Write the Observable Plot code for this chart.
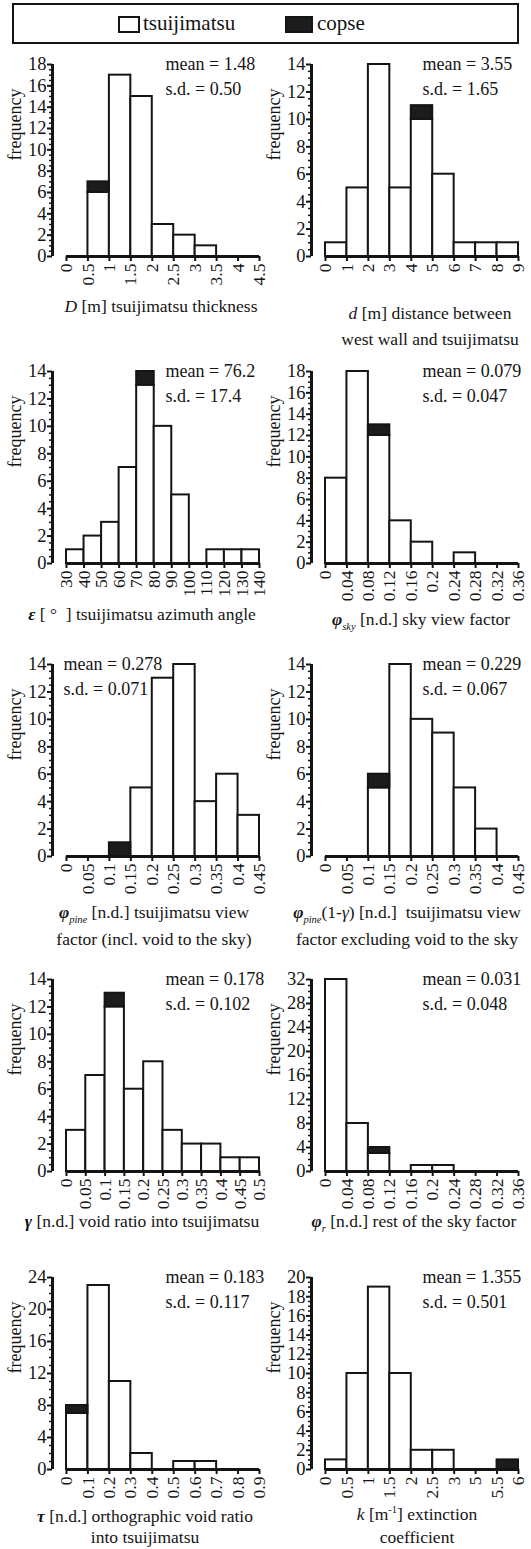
<!DOCTYPE html>
<html><head><meta charset="utf-8">
<script src="https://cdn.jsdelivr.net/npm/d3@7"></script>
<script src="https://cdn.jsdelivr.net/npm/@observablehq/plot@0.6"></script>
<style>
html,body{margin:0;padding:0;background:#fff;}
#page{position:relative;width:531px;height:1549px;overflow:hidden;font-family:"Liberation Serif","Times New Roman",serif;color:#141414;}
.panel{position:absolute;}
#overlay{position:absolute;left:0;top:0;pointer-events:none;}
#overlay text{white-space:pre;}
</style></head><body><div id="page"></div>
<script>
// ---------------- data ----------------
const seriesNames = ["tsuijimatsu", "copse"];
const yLabel = "frequency";

const thickEdges = [0, 0.5, 1, 1.5, 2, 2.5, 3, 3.5, 4, 4.5];
const thickTsuji = [0, 6, 17, 15, 3, 2, 1, 0, 0];
const thickCopse = [0, 1, 0, 0, 0, 0, 0, 0, 0];

const distEdges = [0, 1, 2, 3, 4, 5, 6, 7, 8, 9];
const distTsuji = [1, 5, 14, 5, 10, 6, 1, 1, 1];
const distCopse = [0, 0, 0, 0, 1, 0, 0, 0, 0];

const azEdges = [30, 40, 50, 60, 70, 80, 90, 100, 110, 120, 130, 140];
const azTsuji = [1, 2, 3, 7, 13, 10, 5, 0, 1, 1, 1];
const azCopse = [0, 0, 0, 0, 1, 0, 0, 0, 0, 0, 0];

const skyEdges = [0, 0.04, 0.08, 0.12, 0.16, 0.2, 0.24, 0.28, 0.32, 0.36];
const skyTsuji = [8, 18, 12, 4, 2, 0, 1, 0, 0];
const skyCopse = [0, 0, 1, 0, 0, 0, 0, 0, 0];

const pineEdges = [0, 0.05, 0.1, 0.15, 0.2, 0.25, 0.3, 0.35, 0.4, 0.45];
const pineTsuji = [0, 0, 0, 5, 13, 14, 4, 6, 3];
const pineCopse = [0, 0, 1, 0, 0, 0, 0, 0, 0];

const pineExEdges = [0, 0.05, 0.1, 0.15, 0.2, 0.25, 0.3, 0.35, 0.4, 0.45];
const pineExTsuji = [0, 0, 5, 14, 10, 9, 5, 2, 0];
const pineExCopse = [0, 0, 1, 0, 0, 0, 0, 0, 0];

const gammaEdges = [0, 0.05, 0.1, 0.15, 0.2, 0.25, 0.3, 0.35, 0.4, 0.45, 0.5];
const gammaTsuji = [3, 7, 12, 6, 8, 3, 2, 2, 1, 1];
const gammaCopse = [0, 0, 1, 0, 0, 0, 0, 0, 0, 0];

const restEdges = [0, 0.04, 0.08, 0.12, 0.16, 0.2, 0.24, 0.28, 0.32, 0.36];
const restTsuji = [32, 8, 3, 0, 1, 1, 0, 0, 0];
const restCopse = [0, 0, 1, 0, 0, 0, 0, 0, 0];

const tauEdges = [0, 0.1, 0.2, 0.3, 0.4, 0.5, 0.6, 0.7, 0.8, 0.9];
const tauTsuji = [7, 23, 11, 2, 0, 1, 1, 0, 0];
const tauCopse = [1, 0, 0, 0, 0, 0, 0, 0, 0];

const kEdges = [0, 0.5, 1, 1.5, 2, 2.5, 3, 5, 5.5, 6];
const kTsuji = [1, 10, 19, 10, 2, 2, 0, 0, 0];
const kCopse = [0, 0, 0, 0, 0, 0, 0, 0, 1];

const yMaxes = [18, 14, 14, 18, 14, 14, 14, 32, 24, 20];
const yMajorSteps = [2, 2, 2, 2, 2, 2, 2, 4, 4, 2];
const means = ["1.48", "3.55", "76.2", "0.079", "0.278", "0.229", "0.178", "0.031", "0.183", "1.355"];
const sds = ["0.50", "1.65", "17.4", "0.047", "0.071", "0.067", "0.102", "0.048", "0.117", "0.501"];

const xTitles = [
  ["<i>D</i> [m] tsuijimatsu thickness"],
  ["<i>d</i> [m] distance between", "west wall and tsuijimatsu"],
  ["<b><i>ε</i></b> [ °  ] tsuijimatsu azimuth angle"],
  ["<b><i>φ</i></b><sub><i>sky</i></sub> [n.d.] sky view factor"],
  ["<b><i>φ</i></b><sub><i>pine</i></sub> [n.d.] tsuijimatsu view", "factor (incl. void to the sky)"],
  ["<b><i>φ</i></b><sub><i>pine</i></sub>(1-<i>γ</i>) [n.d.]  tsuijimatsu view", "factor excluding void to the sky"],
  ["<b><i>γ</i></b> [n.d.] void ratio into tsuijimatsu"],
  ["<b><i>φ</i></b><sub><i>r</i></sub> [n.d.] rest of the sky factor"],
  ["<b><i>τ</i></b> [n.d.] orthographic void ratio", "into tsuijimatsu"],
  ["<i>k</i> [m<sup>-1</sup>] extinction", "coefficient"]
];

const panels = [
  [thickEdges, thickTsuji, thickCopse],
  [distEdges, distTsuji, distCopse],
  [azEdges, azTsuji, azCopse],
  [skyEdges, skyTsuji, skyCopse],
  [pineEdges, pineTsuji, pineCopse],
  [pineExEdges, pineExTsuji, pineExCopse],
  [gammaEdges, gammaTsuji, gammaCopse],
  [restEdges, restTsuji, restCopse],
  [tauEdges, tauTsuji, tauCopse],
  [kEdges, kTsuji, kCopse]
];

// ---------------- layout ----------------
const ink = "#141414";
const copseFill = "#1c1c1c";
const font = "'Liberation Serif', 'Times New Roman', serif";
const rowTops = [64, 371, 664, 979, 1277];
const frameH = 192;
const mTop = 22, mBottom = 48, mLeft = 66, mRight = 13, svgW = 272;
const colLeft = [0, 259];
const axisGap = 14;
const statDx = [99, 97, 99, 97, -3, 97, 99, 97, 99, 97];
// title placement: center x, then one baseline per line
const titlePos = [
  [161, [312]], [430, [319, 345]], [142, [620]], [421, [625]],
  [154, [918, 945]], [407, [918, 945]], [142, [1227]], [414, [1227]],
  [145, [1522, 1543]], [417, [1520, 1543]]
];

const page = document.getElementById("page");

panels.forEach(([edges, tsuji, copse], k) => {
  const col = k % 2, row = Math.floor(k / 2);
  const n = edges.length - 1;
  const ymax = yMaxes[k], step = yMajorSteps[k];
  const nMinor = Math.round(ymax / step * 4);
  const allTicks = d3.range(nMinor + 1).map(j => ({v: j * step / 4, major: j % 4 === 0}));
  const majors = allTicks.filter(d => d.major).map(d => d.v);
  const minors = allTicks.filter(d => !d.major).map(d => d.v);
  const white = tsuji.map((t, i) => ({i, lo: 0, hi: t})).filter(d => d.hi > 0);
  const black = copse.map((c, i) => ({i, lo: tsuji[i], hi: tsuji[i] + c})).filter(d => d.hi > d.lo);

  const chart = Plot.plot({
    width: svgW,
    height: mTop + frameH + mBottom,
    marginTop: mTop, marginBottom: mBottom, marginLeft: mLeft, marginRight: mRight,
    x: {domain: [0, n], axis: null},
    y: {domain: [0, ymax], axis: null},
    style: {background: "none", overflow: "visible", fontFamily: font, color: ink, maxWidth: "none"},
    marks: [
      Plot.rect(white, {x1: "i", x2: d => d.i + 1, y1: "lo", y2: "hi", fill: "white", stroke: ink, strokeWidth: 2}),
      Plot.rect(black, {x1: "i", x2: d => d.i + 1, y1: "lo", y2: "hi", fill: copseFill, stroke: ink, strokeWidth: 2}),
      Plot.axisX({ticks: d3.range(n + 1), tickFormat: i => String(edges[i]), tickRotate: -90, tickSize: 5, tickPadding: 2, strokeWidth: 2, fontSize: 17.5, label: null, stroke: ink, fill: ink}),
      Plot.ruleY([0], {strokeWidth: 3, stroke: ink}),
      Plot.ruleX([0], {y1: 0, y2: ymax, dx: -axisGap, strokeWidth: 3, stroke: ink}),
      Plot.ruleY(majors, {y: d => d, x1: 0, x2: 0, insetLeft: -5, dx: -axisGap, strokeWidth: 2, stroke: ink}),
      Plot.ruleY(minors, {y: d => d, x1: 0, x2: 0, insetLeft: -3, dx: -axisGap, strokeWidth: 1.5, stroke: ink}),
      Plot.text(majors, {y: d => d, text: d => String(d), frameAnchor: "left", textAnchor: "end", dx: -axisGap - 6, fontSize: 18.5, fill: ink}),
      Plot.text([yLabel], {frameAnchor: "left", rotate: -90, dx: -51, fontSize: 18, fill: ink}),
      Plot.text([`mean = ${means[k]}`], {frameAnchor: "top-left", lineAnchor: "bottom", textAnchor: "start", dx: statDx[k], dy: 5, fontSize: 18, fill: ink}),
      Plot.text([`s.d. = ${sds[k]}`], {frameAnchor: "top-left", lineAnchor: "bottom", textAnchor: "start", dx: statDx[k], dy: 30, fontSize: 18, fill: ink})
    ]
  });
  const wrap = document.createElement("div");
  wrap.className = "panel";
  wrap.style.left = colLeft[col] + "px";
  wrap.style.top = (rowTops[row] - mTop) + "px";
  wrap.appendChild(chart);
  page.appendChild(wrap);
});

// ---------------- overlay: legend and axis titles ----------------
const overlay = d3.select(page).append("svg").attr("id", "overlay")
  .attr("width", 531).attr("height", 1549)
  .style("font-family", font).attr("fill", ink);

function richText(sel, markup, x, y, size) {
  const t = sel.append("text").attr("x", x).attr("y", y).attr("text-anchor", "middle").attr("font-size", size);
  let italic = false, bold = false, sub = false, sup = false, shift = 0;
  for (const tok of markup.split(/(<\/?(?:i|b|sub|sup)>)/)) {
    if (!tok) continue;
    const m = tok.match(/^<(\/?)(i|b|sub|sup)>$/);
    if (m) {
      const on = !m[1];
      if (m[2] === "i") italic = on; else if (m[2] === "b") bold = on; else if (m[2] === "sub") sub = on; else sup = on;
      continue;
    }
    const target = sub ? size * 0.28 : sup ? -size * 0.38 : 0;
    t.append("tspan").attr("dy", target - shift)
      .attr("font-style", italic ? "italic" : null)
      .attr("font-weight", bold ? "bold" : null)
      .attr("font-size", (sub || sup) ? size * 0.6 : null)
      .text(tok);
    shift = target;
  }
}

xTitles.forEach((lines, k) => {
  const [cx, baselines] = titlePos[k];
  lines.forEach((ln, j) => richText(overlay, ln, cx, baselines[j], 17.5));
});

// legend
const lg = overlay.append("g");
lg.append("rect").attr("x", 13).attr("y", 4).attr("width", 505).attr("height", 39)
  .attr("fill", "none").attr("stroke", ink).attr("stroke-width", 2);
lg.append("rect").attr("x", 119).attr("y", 17).attr("width", 20).attr("height", 15)
  .attr("fill", "white").attr("stroke", ink).attr("stroke-width", 2);
lg.append("text").attr("x", 143).attr("y", 30).attr("font-size", 21).text(seriesNames[0]);
lg.append("rect").attr("x", 286).attr("y", 17).attr("width", 26).attr("height", 15)
  .attr("fill", copseFill).attr("stroke", ink).attr("stroke-width", 2);
lg.append("text").attr("x", 317).attr("y", 30).attr("font-size", 21).text(seriesNames[1]);
</script>
</body></html>
